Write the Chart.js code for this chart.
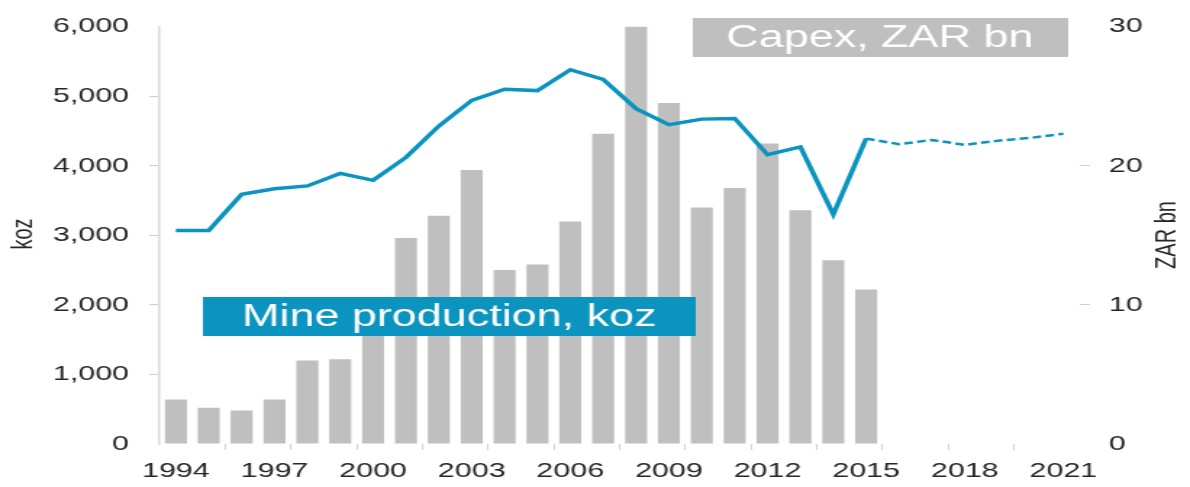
<!DOCTYPE html>
<html>
<head>
<meta charset="utf-8">
<script src="https://cdn.jsdelivr.net/npm/chart.js@4/dist/chart.umd.min.js"></script>
<style>
  html, body { margin: 0; padding: 0; background: #fff; overflow: hidden; }
  #chart { display: block; transform: scaleX(1.4494); transform-origin: 0 0; }
</style>
</head>
<body>
<canvas id="chart" width="821" height="487"></canvas>
<script>
// years on the x axis
const years = ['1994', '1995', '1996', '1997', '1998', '1999', '2000', '2001', '2002', '2003',
  '2004', '2005', '2006', '2007', '2008', '2009', '2010', '2011', '2012', '2013',
  '2014', '2015', '2016', '2017', '2018', '2019', '2020', '2021'];

// Capex, ZAR bn (bars, right axis)
const capex = [3.2, 2.6, 2.4, 3.2, 6.0, 6.1, 9.0, 14.8, 16.4, 19.7,
  12.5, 12.9, 16.0, 22.3, 30.0, 24.5, 17.0, 18.4, 21.6, 16.8,
  13.2, 11.1, null, null, null, null, null, null];

// Mine production, koz (line, left axis) - dashed after 2015
const production = [3070, 3070, 3590, 3670, 3710, 3890, 3790, 4120, 4570, 4940,
  5100, 5080, 5380, 5240, 4820, 4590, 4670, 4680, 4160, 4270,
  3300, 4390, 4310, 4370, 4300, 4360, 4400, 4460];
const forecastFrom = years.indexOf('2015');

const kozTicks = [0, 1000, 2000, 3000, 4000, 5000, 6000];
const zarTicks = [0, 10, 20, 30];

const FONT = '"Liberation Sans", Arial, sans-serif';
const BLUE = '#0A94BF';
const GREY = '#BFBFBF';
const TEXT = '#262626';

// boxes with series names + axis titles
const labelsPlugin = {
  id: 'labels',
  afterDraw(chart) {
    const ctx = chart.ctx;
    ctx.save();
    ctx.textAlign = 'center';
    ctx.textBaseline = 'middle';

    ctx.fillStyle = BLUE;
    ctx.fillRect(140, 297, 340, 39);
    ctx.fillStyle = '#fff';
    ctx.font = '31px ' + FONT;
    ctx.fillText('Mine production, koz', 310, 317);

    ctx.fillStyle = GREY;
    ctx.fillRect(478, 18, 259, 39);
    ctx.fillStyle = '#fff';
    ctx.fillText('Capex, ZAR bn', 607, 38);

    ctx.fillStyle = TEXT;
    ctx.font = '20px ' + FONT;
    ctx.translate(16, 234);
    ctx.rotate(-Math.PI / 2);
    ctx.fillText('koz', 0, 0);
    ctx.restore();

    ctx.save();
    ctx.fillStyle = TEXT;
    ctx.font = '20px ' + FONT;
    ctx.textAlign = 'center';
    ctx.textBaseline = 'middle';
    ctx.translate(805, 235);
    ctx.rotate(-Math.PI / 2);
    ctx.fillText('ZAR bn', 0, 0);
    ctx.restore();
  }
};

new Chart(document.getElementById('chart').getContext('2d'), {
  type: 'bar',
  data: {
    labels: years,
    datasets: [
      {
        type: 'line',
        label: 'Mine production, koz',
        data: production,
        yAxisID: 'y',
        borderColor: BLUE,
        borderWidth: 3.5,
        pointRadius: 0,
        tension: 0,
        order: 0,
        segment: {
          borderDash: (c) => (c.p0DataIndex >= forecastFrom ? [6, 3] : undefined),
          borderWidth: (c) => (c.p0DataIndex >= forecastFrom ? 2.5 : 3.5),
        },
      },
      {
        label: 'Capex, ZAR bn',
        data: capex,
        yAxisID: 'y1',
        backgroundColor: GREY,
        barPercentage: 0.67,
        categoryPercentage: 1.0,
        order: 1,
      },
    ],
  },
  options: {
    responsive: false,
    animation: false,
    layout: { padding: { top: 24, left: 0, right: 0, bottom: 0 } },
    plugins: {
      legend: { display: false },
      tooltip: { enabled: false },
    },
    scales: {
      x: {
        offset: true,
        border: { display: false },
        grid: {
          offset: true,
          drawOnChartArea: false,
          tickLength: 6,
          color: (c) => (c.index > 0 && c.index % 2 === 0 ? '#d0d0d0' : 'transparent'),
        },
        ticks: {
          autoSkip: false,
          maxRotation: 0,
          padding: 9,
          color: TEXT,
          font: { family: FONT, size: 21 },
          callback: (v, i) => (i % 3 === 0 ? years[i] : ''),
        },
        afterFit: (s) => { s.height = 43; },
      },
      y: {
        position: 'left',
        min: kozTicks[0],
        max: kozTicks[kozTicks.length - 1],
        border: { color: '#d9d9d9', width: 1.5 },
        grid: {
          drawOnChartArea: false,
          tickLength: 7,
          color: (c) => (c.tick && c.tick.value > 0 && c.tick.value < 6000 ? '#d0d0d0' : 'transparent'),
        },
        ticks: {
          stepSize: 1000,
          padding: 14,
          color: TEXT,
          font: { family: FONT, size: 21 },
          callback: (v) => v.toLocaleString('en-US'),
        },
        afterFit: (s) => { s.width = 110; },
      },
      y1: {
        position: 'right',
        min: zarTicks[0],
        max: zarTicks[zarTicks.length - 1],
        border: { display: false },
        grid: {
          drawOnChartArea: false,
          tickLength: 7,
          color: (c) => (c.tick && c.tick.value > 0 && c.tick.value < 30 ? '#d0d0d0' : 'transparent'),
        },
        ticks: {
          stepSize: 10,
          padding: 13,
          color: TEXT,
          font: { family: FONT, size: 21 },
        },
        afterFit: (s) => { s.width = 76; },
      },
    },
  },
  plugins: [labelsPlugin],
});
</script>
</body>
</html>
